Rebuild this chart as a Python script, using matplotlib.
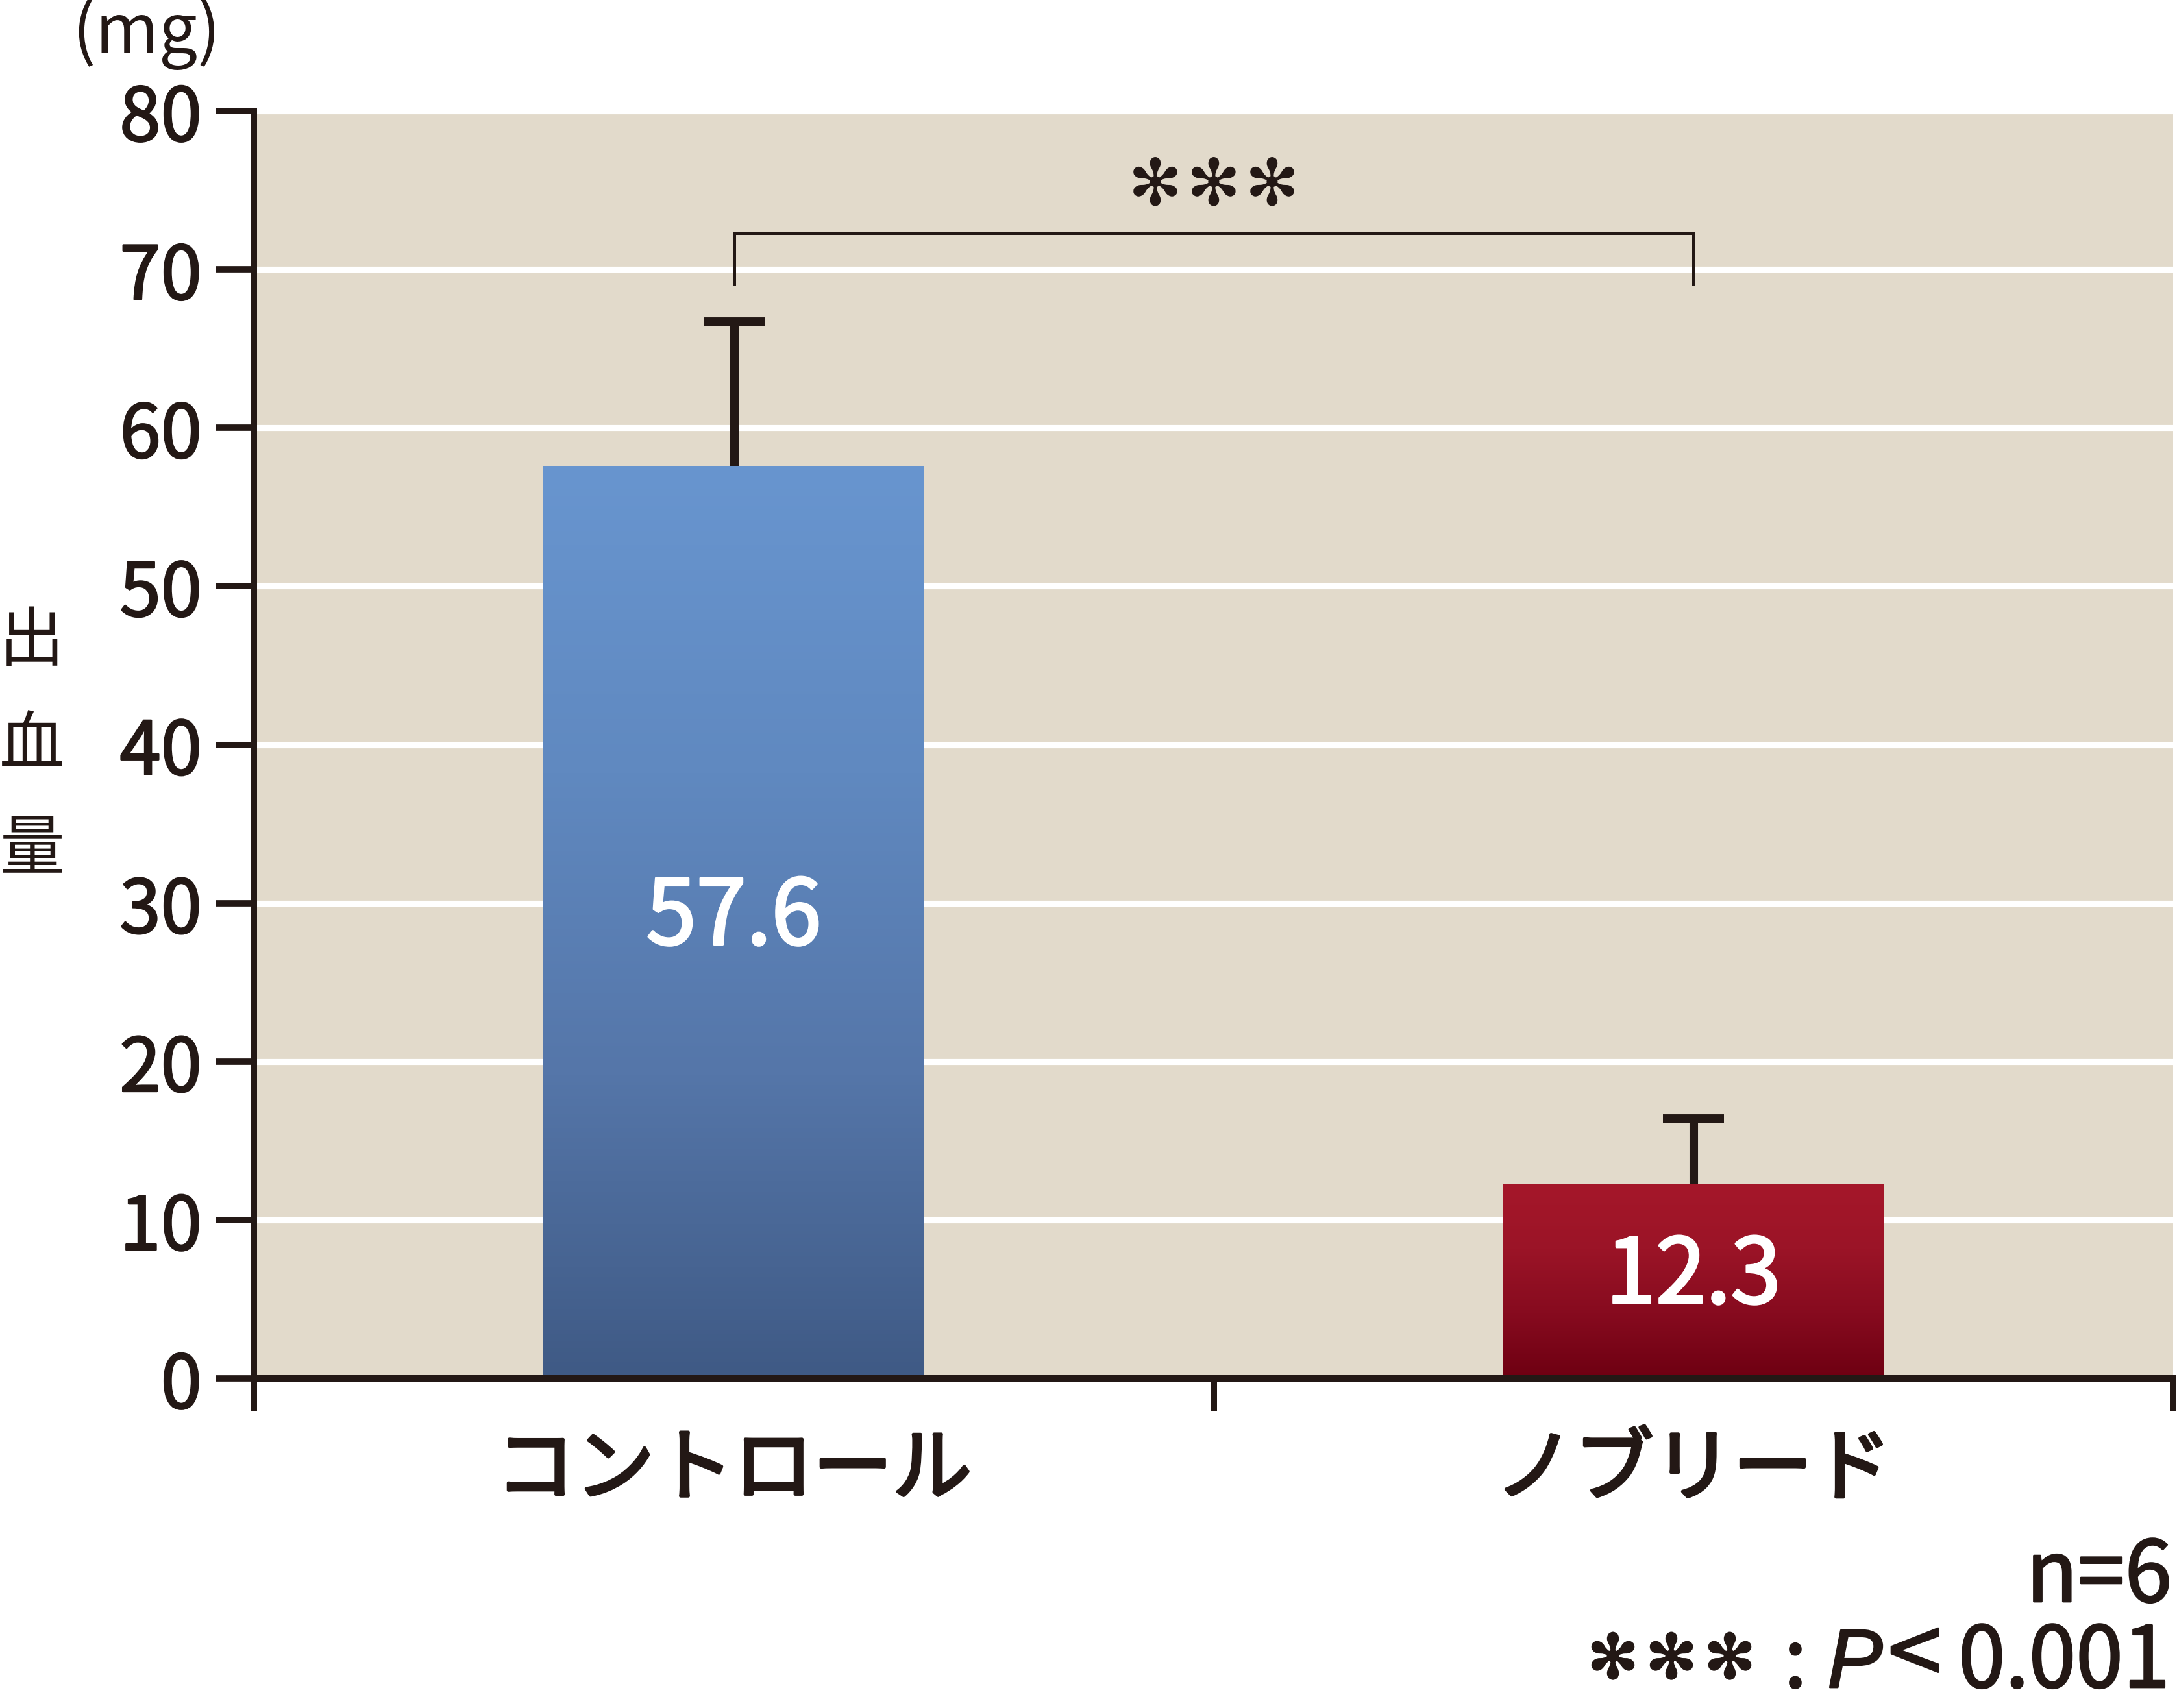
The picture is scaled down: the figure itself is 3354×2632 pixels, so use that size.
import numpy as np
import matplotlib
matplotlib.use('Agg')
import matplotlib.pyplot as plt
import matplotlib.patheffects as pe
from matplotlib.colors import LinearSegmentedColormap

plt.rcParams['font.family'] = ['Noto Sans CJK JP', 'DejaVu Sans']

# data
categories = ['コントロール', 'ノブリード']
values = [57.6, 12.3]
errors = [9.1, 4.1]
value_labels = ['57.6', '12.3']
yticks = [0, 10, 20, 30, 40, 50, 60, 70, 80]
ylabel = '出血量'
unit = '(mg)'
sig_mark = '✻✻✻'
n_note = 'n=6'
p_note = ['✻', '✻', '✻', ':', 'P', '<', '0.001']
bracket_y = 72.3
bracket_leg = 69.1
sig_y = 75.2

ink = '#231815'
bg = '#E2DACB'
# bottom -> top colour stops of each bar
gradients = [['#3F5A85', '#5576A9', '#6089C0', '#6895CF'],
             ['#6E0012', '#870B1F', '#9B1427', '#A5172A']]

W, H = 3354, 2632
fig = plt.figure(figsize=(W / 200, H / 200), dpi=200)
ax = fig.add_axes([0.1167, 0.193, 0.8815, 0.742])
ax.set_facecolor(bg)

x = np.arange(len(categories))
bars = ax.bar(x, values, width=0.397, color='none', edgecolor='none', zorder=2)
grad = np.linspace(0, 1, 256).reshape(-1, 1)
for bar, stops in zip(bars, gradients):
    cmap = LinearSegmentedColormap.from_list('g', stops)
    x0, w, h = bar.get_x(), bar.get_width(), bar.get_height()
    im = ax.imshow(grad, extent=[x0, x0 + w, 0, h], origin='lower', cmap=cmap,
                   aspect='auto', zorder=2, interpolation='bilinear')
    im.set_clip_path(bar)

# upper error bars only
eb = ax.errorbar(x, values, yerr=[[0] * len(errors), errors], fmt='none', ecolor=ink,
                 elinewidth=4.7, capsize=17, capthick=5, zorder=1.5)
for cap in eb[1]:
    if np.allclose(cap.get_ydata(), values):
        cap.set_visible(False)

for xi, v, lab in zip(x, values, value_labels):
    ax.text(xi, v / 2 + 0.2, lab, ha='center', va='center', color='white', fontsize=50, zorder=4,
            path_effects=[pe.withStroke(linewidth=1.4, foreground='white')])

# significance bracket
ax.plot([0, 0, 1, 1], [bracket_leg, bracket_y, bracket_y, bracket_leg], color=ink, lw=1.8, zorder=3)
for k, ch in enumerate(sig_mark):
    ax.text(0.5 + (k - 1) * 0.061, sig_y, ch, ha='center', va='center', fontsize=36, color=ink,
            family=['DejaVu Sans'])

ax.set_xlim(-0.5, 1.5)
ax.set_ylim(0, 80)
ax.set_yticks(yticks)
ax.set_yticklabels([str(t) for t in yticks], fontsize=41, color=ink)
ax.yaxis.grid(True, color='white', lw=3.3)
ax.set_axisbelow(True)

ax.set_xticks([-0.5, 0.5, 1.5])
ax.set_xticklabels([])
ax.set_xticks(x, minor=True)
ax.set_xticklabels(categories, minor=True, fontsize=44, color=ink)
ax.tick_params(axis='x', which='major', direction='out', length=18.5, width=3.6, color=ink)
ax.tick_params(axis='x', which='minor', length=0, pad=29)
ax.tick_params(axis='y', direction='out', length=21, width=3.5, color=ink, pad=8)
for lab in ax.get_xticklabels(minor=True):
    lab.set_path_effects([pe.withStroke(linewidth=1.8, foreground=ink)])
for lab in ax.get_yticklabels():
    lab.set_path_effects([pe.withStroke(linewidth=1.0, foreground=ink)])

for s in ['top', 'right']:
    ax.spines[s].set_visible(False)
for s in ['left', 'bottom']:
    ax.spines[s].set_color(ink)
    ax.spines[s].set_linewidth(3.6)

# vertical y label, one character per line
for i, ch in enumerate(ylabel):
    fig.text(0.0146, 0.6242 - i * 0.0609, ch, ha='center', va='center', fontsize=36, color=ink)

fig.text(0.0673, 0.969, unit, ha='center', va='baseline', fontsize=38, color=ink)

# footnotes, right aligned
thick = [pe.withStroke(linewidth=1.0, foreground=ink)]
fig.text(3346 / W, 1 - 2468 / H, n_note, ha='right', va='baseline', fontsize=47, color=ink,
         path_effects=thick)

base = 2600  # baseline of the last line, in pixels from the top
star = dict(fontsize=34, family=['DejaVu Sans'], va='center', dy=40)
runs = [
    (2485, star), (2575, star), (2665, star),
    (2766, dict(fontsize=46, va='baseline', dy=0)),
    (2858, dict(fontsize=46, family='Liberation Sans', style='italic', va='baseline', dy=0)),
    (2950, dict(fontsize=54, va='center', dy=44)),
    (3180, dict(fontsize=47, va='baseline', dy=0)),
]
for run, (cx, st) in zip(p_note, runs):
    st = dict(st)
    dy = st.pop('dy')
    fig.text(cx / W, 1 - (base - dy) / H, run, ha='center', color=ink, path_effects=thick, **st)

fig.savefig('out.png', dpi=200)
